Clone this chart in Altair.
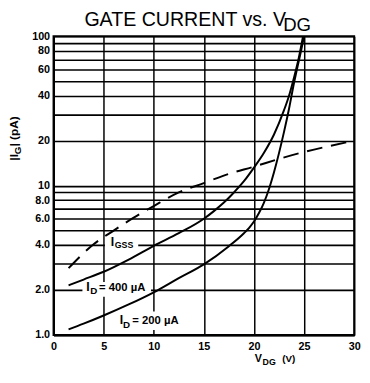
import altair as alt
import pandas as pd

# ---- data ----
igss_v = [1.5, 4.0, 6.0, 8.0, 10.0, 12.5, 15.0, 17.5, 20.0, 22.5, 25.0, 27.5, 30.0]
igss_i = [2.8, 4.05, 5.0, 6.1, 7.3, 9.0, 10.4, 12.0, 13.4, 15.1, 16.8, 18.4, 20.0]

id400_v = [1.5, 3.0, 5.0, 7.5, 10.0, 12.5, 15.0, 16.0, 17.0, 18.0, 19.0, 20.0, 21.0, 22.0, 23.0, 23.5, 24.0, 24.5, 24.9]
id400_i = [2.15, 2.35, 2.65, 3.2, 3.95, 4.8, 6.0, 6.75, 7.7, 9.0, 10.7, 13.2, 16.6, 22.0, 32.0, 40.0, 53.0, 73.0, 100.0]

id200_v = [1.5, 3.0, 5.0, 7.5, 10.0, 12.5, 15.0, 17.5, 19.0, 19.5, 20.0, 20.5, 21.0, 21.5, 22.0, 23.0, 23.5, 24.0, 24.4, 24.7, 25.0]
id200_i = [1.09, 1.19, 1.35, 1.6, 1.93, 2.4, 2.97, 3.93, 4.8, 5.2, 5.75, 6.55, 7.7, 9.5, 12.3, 22.9, 32.7, 48.8, 65.0, 80.0, 100.0]

x_ticks = [0, 5, 10, 15, 20, 25, 30]
y_grid = [1, 2, 3, 4, 5, 6, 7, 8, 9, 10, 20, 30, 40, 50, 60, 70, 80, 90, 100]
y_labels_dec = [1, 2, 4, 6, 8]
y_labels_int = [10, 20, 40, 60, 80, 100]

FONT = "Liberation Sans"
W, H = 307, 305
OX, OY = 54.5, 33.0  # page position of plot origin


def px(x):
    return x - OX


def py(y):
    return y - OY


x_scale = alt.Scale(domain=[0, 30], nice=False, zero=False)
y_scale = alt.Scale(type="log", domain=[1, 100], nice=False)

x_axis = alt.Axis(
    values=x_ticks, grid=True, gridColor="black", gridWidth=1.5, gridOpacity=1,
    ticks=False, domainColor="black", domainWidth=2, labelFont=FONT,
    labelFontSize=11, labelFontWeight="bold", labelColor="black",
    labelPadding=6, labelFlush=False, labelOverlap=False, title=None,
)
lab_expr = (
    "indexof(" + str(y_labels_dec) + ", datum.value) >= 0 ? format(datum.value, '.1f') : "
    "(indexof(" + str(y_labels_int) + ", datum.value) >= 0 ? format(datum.value, 'd') : '')"
)
y_axis = alt.Axis(
    values=y_grid, grid=True, gridColor="black", gridWidth=1.6, gridOpacity=1,
    ticks=False, domainColor="black", domainWidth=2, labelFont=FONT,
    labelFontSize=11, labelFontWeight="bold", labelColor="black",
    labelPadding=4, labelOverlap=False, labelExpr=lab_expr, title=None,
)

df_igss = pd.DataFrame({"v": igss_v, "i": igss_i})
df_400 = pd.DataFrame({"v": id400_v, "i": id400_i})
df_200 = pd.DataFrame({"v": id200_v, "i": id200_i})

enc = dict(
    x=alt.X("v:Q", scale=x_scale, axis=x_axis),
    y=alt.Y("i:Q", scale=y_scale, axis=y_axis),
)

line_igss = alt.Chart(df_igss).mark_line(
    color="black", strokeWidth=2, strokeDash=[16, 9], interpolate="monotone"
).encode(**enc)
line_400 = alt.Chart(df_400).mark_line(
    color="black", strokeWidth=2, interpolate="monotone"
).encode(**enc)
line_200 = alt.Chart(df_200).mark_line(
    color="black", strokeWidth=2, interpolate="monotone"
).encode(**enc)


def blank(x1, x2, y1, y2):
    return alt.Chart(pd.DataFrame({"a": [0]})).mark_rect(color="white").encode(
        x=alt.value(px(x1)), x2=alt.value(px(x2)),
        y=alt.value(py(y1)), y2=alt.value(py(y2)),
    )


def txt(s, x, y, size, weight="normal", angle=0):
    return alt.Chart(pd.DataFrame({"a": [0]})).mark_text(
        text=s, font=FONT, fontSize=size, fontWeight=weight, color="black",
        align="left", baseline="alphabetic", angle=angle,
    ).encode(x=alt.value(px(x)), y=alt.value(py(y)))


rects = [
    blank(107, 141, 237, 252),
    blank(84, 154, 284, 299),
    blank(118, 190, 314, 333),
]

texts = [
    # title
    txt("GATE CURRENT vs. V", 86, 22, 20),
    txt("DG", 289, 28, 19),
    # curve labels
    txt("I", 113, 247, 12.5, "bold"),
    txt("GSS", 117, 249.5, 9, "bold"),
    txt("I", 88, 293, 12.5, "bold"),
    txt("D", 92, 296.5, 10, "bold"),
    txt("= 400 \u00b5A", 101, 293, 11.5, "bold"),
    txt("I", 122, 327, 12.5, "bold"),
    txt("D", 125.5, 330.5, 10, "bold"),
    txt("= 200 \u00b5A", 135, 327, 11.5, "bold"),
    # x axis title
    txt("V", 260, 366, 11, "bold"),
    txt("DG", 268, 369, 9, "bold"),
    txt("(V)", 288, 366, 10, "bold"),
    # y axis title (rotated)
    txt("|I", 18, 160, 12, "bold", 270),
    txt("G", 21, 153.5, 10, "bold", 270),
    txt("| (pA)", 18, 145.5, 12, "bold", 270),
]

chart = alt.layer(
    *rects, line_igss, line_400, line_200, *texts
).properties(
    width=W, height=H,
    autosize=alt.AutoSizeParams(type="none"),
    padding={"left": 46.5, "top": 25, "right": 8, "bottom": 37},
    background="white",
).configure_view(stroke="black", strokeWidth=2)

chart.save("out.html", embed_options={"renderer": "svg", "actions": False})
